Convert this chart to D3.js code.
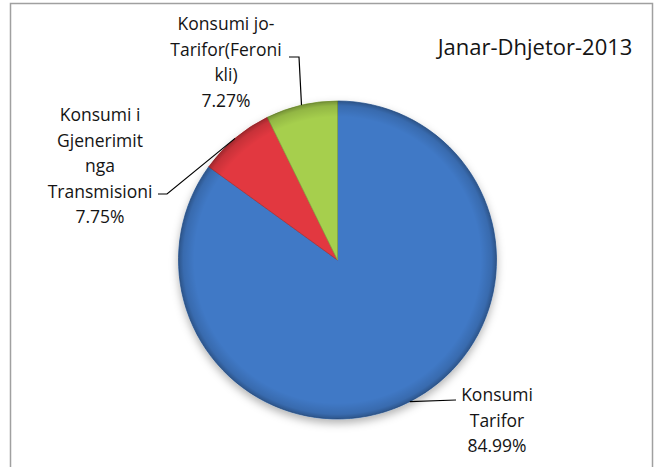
<!DOCTYPE html>
<html>
<head>
<meta charset="utf-8">
<script src="https://cdn.jsdelivr.net/npm/d3@7"></script>
<style>
  html, body { margin: 0; padding: 0; background: #fff; }
  svg { display: block; }
  text { font-family: "Open Sans", Lato, sans-serif; fill: #141414; }
</style>
</head>
<body>
<svg id="chart" width="656" height="467"></svg>
<script>
// Electricity consumption shares, January–December 2013
const title = "Janar-Dhjetor-2013";
const categories = ["Konsumi Tarifor", "Konsumi i Gjenerimit nga Transmisioni", "Konsumi jo-Tarifor(Feroni kli)"];
const values = [84.99, 7.75, 7.27];
const labelLines = [
  ["Konsumi", "Tarifor"],
  ["Konsumi i", "Gjenerimit", "nga", "Transmisioni"],
  ["Konsumi jo-", "Tarifor(Feroni", "kli)"]
];
const colors = ["#4079c6", "#e2393f", "#a6cf4e"];

// Layout: label block anchors (centre x, first baseline) and leader stubs
const labelAnchors = [[497, 401], [100, 121], [226, 30]];
const leaderStubs = [
  [[456, 400]],
  [[158, 194], [167, 194]],
  [[289, 57], [299, 57]]
];

const W = 656, H = 467;
const cx = 337.5, cy = 260, R = 159;
const lineH = 25.5;

const svg = d3.select("#chart");
const defs = svg.append("defs");

const shadow = defs.append("filter").attr("id", "pieShadow")
  .attr("x", "-20%").attr("y", "-20%").attr("width", "140%").attr("height", "140%");
shadow.append("feDropShadow").attr("dx", 0).attr("dy", 4)
  .attr("stdDeviation", 4).attr("flood-color", "#000").attr("flood-opacity", 0.3);

const rim = defs.append("radialGradient").attr("id", "rim")
  .attr("gradientUnits", "userSpaceOnUse")
  .attr("cx", cx).attr("cy", cy).attr("r", R);
rim.append("stop").attr("offset", "0%").attr("stop-color", "#000").attr("stop-opacity", 0);
rim.append("stop").attr("offset", "90%").attr("stop-color", "#000").attr("stop-opacity", 0);
rim.append("stop").attr("offset", "97%").attr("stop-color", "#000").attr("stop-opacity", 0.12);
rim.append("stop").attr("offset", "100%").attr("stop-color", "#000").attr("stop-opacity", 0.3);

// chart frame
svg.append("rect")
  .attr("x", 10.5).attr("y", 3.5)
  .attr("width", 642).attr("height", H)
  .attr("fill", "#fff").attr("stroke", "#a0a0a0").attr("stroke-width", 1.5);

const pie = d3.pie().sort(null).value(d => d);
const arcs = pie(values);
const arc = d3.arc().innerRadius(0).outerRadius(R);

const g = svg.append("g").attr("transform", `translate(${cx},${cy})`);

g.append("g").attr("filter", "url(#pieShadow)")
  .selectAll("path").data(arcs).join("path")
  .attr("d", arc)
  .attr("fill", (d, i) => colors[i])
  .attr("stroke", (d, i) => d3.color(colors[i]).darker(0.6))
  .attr("stroke-width", 0.8)
  .attr("stroke-linejoin", "round");

// darkened rim overlay
svg.append("circle")
  .attr("cx", cx).attr("cy", cy).attr("r", R)
  .attr("fill", "url(#rim)");

// leader lines
const edgePoint = d => {
  const a = (d.startAngle + d.endAngle) / 2;
  return [cx + R * Math.sin(a), cy - R * Math.cos(a)];
};
svg.append("g").selectAll("path").data(arcs).join("path")
  .attr("d", (d, i) => d3.line()([...leaderStubs[i], edgePoint(d)]))
  .attr("fill", "none").attr("stroke", "#000").attr("stroke-width", 1.2);

// data labels
const fmt = d3.format(".2f");
const labels = svg.append("g").selectAll("text").data(arcs).join("text")
  .attr("text-anchor", "middle")
  .attr("font-size", 17.5);
labels.each(function (d, i) {
  const t = d3.select(this);
  const lines = [...labelLines[i], fmt(d.data) + "%"];
  lines.forEach((s, k) => {
    t.append("tspan")
      .attr("x", labelAnchors[i][0])
      .attr("y", labelAnchors[i][1] + k * lineH)
      .text(s);
  });
});

// title
svg.append("text")
  .attr("x", 535).attr("y", 55)
  .attr("text-anchor", "middle")
  .attr("font-size", 22)
  .text(title);
</script>
</body>
</html>
